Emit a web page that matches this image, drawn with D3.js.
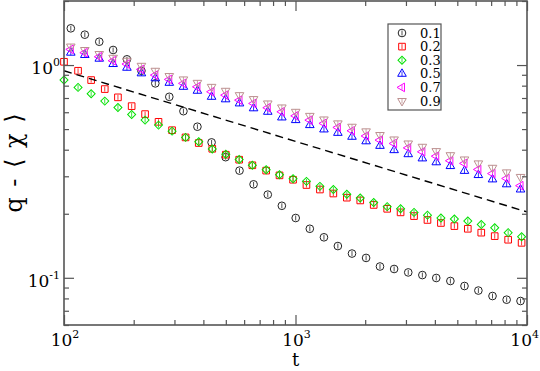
<!DOCTYPE html>
<html>
<head>
<meta charset="utf-8">
<script src="https://cdn.jsdelivr.net/npm/d3@7"></script>
<style>
  html, body { margin: 0; padding: 0; background: #fff; }
  text { font-family: 'DejaVu Serif', 'Liberation Serif', serif; }
</style>
</head>
<body>
<svg id="chart" width="540" height="371"></svg>
<script>
// time points (two sampling grids)
const tA = [107, 123, 142, 163, 187, 216, 248, 285, 328, 377, 434, 499, 573, 659, 759, 873,
  1002, 1153, 1327, 1524, 1754, 2018, 2317, 2667, 3069, 3532, 4055, 4667, 5370, 6166, 7096, 8166, 9376];
const tB = [100, 115, 131, 150, 171, 196, 224, 256, 293, 335, 382, 437, 500, 571, 651, 747, 853, 976,
  1115, 1275, 1457, 1666, 1904, 2177, 2489, 2844, 3251, 3716, 4248, 4856, 5550, 6345, 7253, 8290, 9477];

const q01 = [1.488, 1.389, 1.287, 1.177, 1.064, 0.940, 0.820, 0.709, 0.607, 0.513, 0.433, 0.369, 0.319,
  0.275, 0.246, 0.218, 0.191, 0.170, 0.155, 0.141, 0.130, 0.124, 0.113, 0.110, 0.106, 0.103, 0.0998,
  0.0966, 0.0915, 0.0871, 0.0821, 0.0789, 0.0778];
const q02 = [1.036, 0.940, 0.850, 0.771, 0.705, 0.641, 0.588, 0.541, 0.494, 0.457, 0.430, 0.404, 0.379,
  0.359, 0.338, 0.319, 0.303, 0.289, 0.273, 0.260, 0.249, 0.238, 0.231, 0.220, 0.211, 0.203, 0.195,
  0.187, 0.181, 0.175, 0.170, 0.163, 0.157, 0.151, 0.146];
const q03 = [0.850, 0.785, 0.733, 0.677, 0.632, 0.586, 0.551, 0.522, 0.489, 0.457, 0.436, 0.403, 0.381,
  0.360, 0.338, 0.322, 0.305, 0.292, 0.284, 0.269, 0.260, 0.247, 0.237, 0.226, 0.216, 0.211, 0.203,
  0.197, 0.191, 0.189, 0.185, 0.178, 0.172, 0.163, 0.156];
const q05 = [1.143, 1.115, 1.071, 1.011, 0.971, 0.914, 0.866, 0.825, 0.790, 0.757, 0.709, 0.690, 0.660,
  0.626, 0.603, 0.567, 0.551, 0.522, 0.498, 0.480, 0.460, 0.438, 0.417, 0.398, 0.381, 0.364, 0.349,
  0.335, 0.318, 0.304, 0.290, 0.275, 0.260];
const q07 = [1.185, 1.143, 1.094, 1.048, 1.011, 0.954, 0.897, 0.856, 0.820, 0.790, 0.749, 0.722, 0.684,
  0.660, 0.630, 0.603, 0.577, 0.551, 0.532, 0.509, 0.491, 0.464, 0.444, 0.428, 0.408, 0.391, 0.373,
  0.355, 0.345, 0.323, 0.309, 0.293, 0.271];
const q09 = [1.222, 1.177, 1.127, 1.082, 1.048, 0.992, 0.940, 0.888, 0.856, 0.825, 0.790, 0.757, 0.722,
  0.692, 0.660, 0.632, 0.603, 0.577, 0.555, 0.532, 0.513, 0.488, 0.469, 0.447, 0.428, 0.413, 0.394,
  0.377, 0.360, 0.345, 0.329, 0.313, 0.298];

// guide line ~ t^(-1/3)
const dashT = [100, 10000];
const dashQ = [0.94, 0.204];

const labels = ['0.1', '0.2', '0.3', '0.5', '0.7', '0.9'];
const xMajor = [100, 1000, 10000];
const yMajor = [0.1, 1];

const series = [
  { name: labels[0], t: tA, q: q01, shape: 'circle', color: '#222' },
  { name: labels[1], t: tB, q: q02, shape: 'square', color: '#ff0000' },
  { name: labels[2], t: tB, q: q03, shape: 'diamond', color: '#00e000' },
  { name: labels[3], t: tA, q: q05, shape: 'up', color: '#0000ff' },
  { name: labels[4], t: tA, q: q07, shape: 'left', color: '#ff00ff' },
  { name: labels[5], t: tA, q: q09, shape: 'down', color: '#bc8f8f' }
];

const W = 540, H = 371;
const m = { left: 64, right: 13, top: 1, bottom: 46 };
const FONT = 'DejaVu Serif, Liberation Serif, serif';
const svg = d3.select('#chart');

const x = d3.scaleLog().domain([100, 10000]).range([m.left, W - m.right]);
const y = d3.scaleLog().domain([0.06, 2]).range([H - m.bottom, m.top]);

const axisColor = '#555';

function minorTicks(scale) {
  return scale.ticks().filter(v => {
    const e = Math.log10(v);
    return Math.abs(e - Math.round(e)) > 1e-6;
  });
}

function symbolPath(shape) {
  const g = d3.symbol();
  if (shape === 'circle') return g.type(d3.symbolCircle).size(46)();
  if (shape === 'square') return g.type(d3.symbolSquare).size(44)();
  if (shape === 'diamond') return g.type(d3.symbolSquare).size(32)();
  return g.type(d3.symbolTriangle).size(32)();
}

function shapeRotation(shape) {
  return { diamond: 45, left: -90, down: 180 }[shape] || 0;
}

// series markers
const gData = svg.append('g');
series.forEach(s => {
  const pts = s.t.map((t, i) => ({ t, q: s.q[i] }));
  const g = gData.append('g');
  const p = g.selectAll('g').data(pts).join('g')
    .attr('transform', d => `translate(${x(d.t)},${y(d.q)})`);
  p.append('path')
    .attr('d', symbolPath(s.shape))
    .attr('transform', `rotate(${shapeRotation(s.shape)})`)
    .attr('fill', 'none')
    .attr('stroke', s.color)
    .attr('stroke-width', 1);
  // small error bar
  p.append('line')
    .attr('x1', 0).attr('x2', 0).attr('y1', -2.5).attr('y2', 2.5)
    .attr('stroke', s.color)
    .attr('stroke-width', 0.8);
});

// dashed guide
svg.append('path')
  .datum(dashT.map((t, i) => [t, dashQ[i]]))
  .attr('d', d3.line().x(d => x(d[0])).y(d => y(d[1])))
  .attr('fill', 'none')
  .attr('stroke', '#000')
  .attr('stroke-width', 1.4)
  .attr('stroke-dasharray', '8,5');

// frame with inward ticks on all four sides
function drawAxis(axisFn, scale, vals, size, transform) {
  const a = svg.append('g').attr('transform', transform)
    .call(axisFn(scale).tickValues(vals).tickSize(size).tickFormat(''));
  a.select('.domain').remove();
  a.selectAll('line').attr('stroke', axisColor).attr('stroke-width', 1.2);
}
const xMinor = minorTicks(x), yMinor = minorTicks(y);
drawAxis(d3.axisBottom, x, xMajor, -10, `translate(0,${H - m.bottom})`);
drawAxis(d3.axisBottom, x, xMinor, -5, `translate(0,${H - m.bottom})`);
drawAxis(d3.axisTop, x, xMajor, -10, `translate(0,${m.top})`);
drawAxis(d3.axisTop, x, xMinor, -5, `translate(0,${m.top})`);
drawAxis(d3.axisLeft, y, yMajor, -10, `translate(${m.left},0)`);
drawAxis(d3.axisLeft, y, yMinor, -5, `translate(${m.left},0)`);
drawAxis(d3.axisRight, y, yMajor, -10, `translate(${W - m.right},0)`);
drawAxis(d3.axisRight, y, yMinor, -5, `translate(${W - m.right},0)`);

svg.append('rect')
  .attr('x', m.left).attr('y', m.top)
  .attr('width', W - m.left - m.right).attr('height', H - m.top - m.bottom)
  .attr('fill', 'none').attr('stroke', axisColor).attr('stroke-width', 1.6);

// tick labels 10^n
function powLabel(sel, v) {
  const e = Math.round(Math.log10(v));
  sel.append('tspan').attr('font-size', 17).text('10');
  sel.append('tspan').attr('font-size', 11).attr('dy', -8).text(String(e));
}
xMajor.forEach(v => {
  const t = svg.append('text')
    .attr('x', x(v) + 1).attr('y', H - m.bottom + 21)
    .attr('text-anchor', 'middle').attr('fill', '#000')
    .attr('font-family', FONT);
  powLabel(t, v);
  // keep the last label inside the picture
  const b = t.node().getBBox();
  if (b.x + b.width > W - 1) t.attr('x', +t.attr('x') - (b.x + b.width - (W - 1)));
});
yMajor.forEach(v => {
  const t = svg.append('text')
    .attr('x', m.left - 4).attr('y', y(v) + 9)
    .attr('text-anchor', 'end').attr('fill', '#000')
    .attr('font-family', FONT);
  powLabel(t, v);
});

// axis titles
svg.append('text')
  .attr('x', x(1000)).attr('y', 366)
  .attr('text-anchor', 'middle').attr('font-size', 18)
  .attr('font-family', FONT)
  .text('t');
svg.append('text')
  .attr('transform', `translate(22,${(m.top + H - m.bottom) / 2}) rotate(-90)`)
  .attr('text-anchor', 'middle').attr('font-size', 24)
  .attr('word-spacing', 3)
  .attr('font-family', FONT)
  .text('q - \u27E8 \u03C7 \u27E9');

// legend
const lg = svg.append('g').attr('transform', 'translate(388,24)');
lg.append('rect').attr('width', 53).attr('height', 86)
  .attr('fill', '#fff').attr('stroke', axisColor).attr('stroke-width', 1.2);
series.forEach((s, i) => {
  const row = lg.append('g').attr('transform', `translate(14,${9 + i * 13.6})`);
  row.append('path')
    .attr('d', symbolPath(s.shape))
    .attr('transform', `rotate(${shapeRotation(s.shape)})`)
    .attr('fill', 'none').attr('stroke', s.color).attr('stroke-width', 1);
  row.append('line')
    .attr('x1', 0).attr('x2', 0).attr('y1', -2.5).attr('y2', 2.5)
    .attr('stroke', s.color).attr('stroke-width', 0.8);
  row.append('text')
    .attr('x', 18).attr('y', 4.5)
    .attr('font-size', 13)
    .attr('font-family', FONT)
    .text(s.name);
});
</script>
</body>
</html>
